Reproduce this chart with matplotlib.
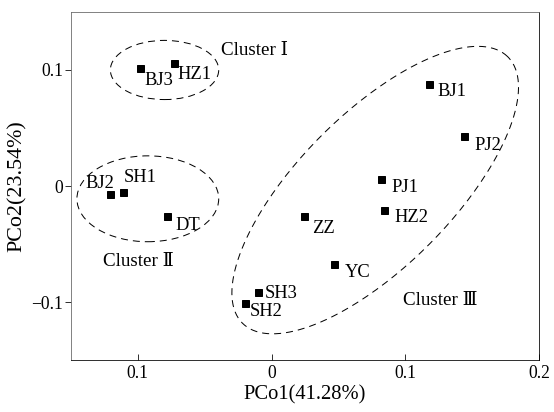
import numpy as np
import matplotlib
matplotlib.use('Agg')
from matplotlib import pyplot as plt
from matplotlib.patches import Ellipse

# sample scores on the first two principal coordinates
names = ['BJ3', 'HZ1', 'BJ2', 'SH1', 'DT', 'BJ1', 'PJ2', 'PJ1',
         'HZ2', 'ZZ', 'YC', 'SH3', 'SH2']
pco1 = [-0.098, -0.073, -0.121, -0.111, -0.078, 0.118, 0.144, 0.082,
        0.084, 0.024, 0.047, -0.010, -0.020]
pco2 = [0.102, 0.106, -0.007, -0.005, -0.026, 0.088, 0.043, 0.006,
        -0.021, -0.026, -0.067, -0.091, -0.101]
# label offsets in points (dx, dy, ha)
offsets = {'BJ3': (4, -13, 'left'), 'HZ1': (4, -11, 'left'),
           'BJ2': (-10, 11, 'center'), 'SH1': (17, 14, 'center'),
           'DT': (8, -9, 'left'), 'BJ1': (8, -8, 'left'),
           'PJ2': (10, -9, 'left'), 'PJ1': (10, -8, 'left'),
           'HZ2': (11, -7, 'left'), 'ZZ': (8, -12, 'left'),
           'YC': (10, -9, 'left'), 'SH3': (7, -2, 'left'),
           'SH2': (5, -8, 'left')}

xticks = [-0.1, 0, 0.1, 0.2]
xticklabels = ['0.1', '0', '0.1', '0.2']
yticks = [-0.1, 0, 0.1]
yticklabels = ['\u22120.1', '0', '0.1']

serif = ['Liberation Serif', 'DejaVu Serif']
plt.rcParams['font.family'] = serif
plt.rcParams['font.size'] = 17.5

fig = plt.figure(figsize=(554 / 72, 412 / 72), dpi=72)
ax = fig.add_axes([0.128, 0.126, 0.845, 0.845])

ax.plot(pco1, pco2, 's', color='black', markersize=7, linestyle='none')
for n, x, y in zip(names, pco1, pco2):
    dx, dy, ha = offsets[n]
    ax.annotate(n, (x, y), xytext=(dx, dy), textcoords='offset points',
                ha=ha, va='center', fontsize=18.5)

# cluster outlines
dash = (0, (7, 5))
ax.add_patch(Ellipse((-0.080, 0.100), 0.081, 0.051, fill=False,
                     edgecolor='black', lw=1, linestyle=dash))
ax.add_patch(Ellipse((-0.0925, -0.011), 0.106, 0.074, fill=False,
                     edgecolor='black', lw=1, linestyle=dash))
t = np.linspace(0, 2 * np.pi, 300)
cx, cy = 0.0775, -0.0035
ux, uy = 0.0990, 0.1150
vx, vy = -0.0410, 0.0460
ax.plot(cx + ux * np.cos(t) + vx * np.sin(t),
        cy + uy * np.cos(t) + vy * np.sin(t),
        color='black', lw=1, linestyle=dash)

ax.text(-0.0378, 0.117, 'Cluster \u2160', va='center', ha='left',
        fontsize=19)
ax.text(-0.126, -0.0647, 'Cluster \u2161', va='center', ha='left',
        fontsize=19)
ax.text(0.0983, -0.0983, 'Cluster \u2162', va='center', ha='left',
        fontsize=19)

ax.set_xlim(-0.15, 0.2)
ax.set_ylim(-0.15, 0.15)
ax.set_xticks(xticks)
ax.set_xticklabels(xticklabels)
ax.set_yticks(yticks)
ax.set_yticklabels(yticklabels)
ax.tick_params(axis='x', direction='in', length=6, pad=5)
ax.tick_params(axis='y', direction='out', length=6, pad=2)
ax.spines['left'].set_color('#666666')
ax.spines['top'].set_color('#666666')
ax.set_xlabel('PCo1(41.28%)', labelpad=3, fontsize=20.5)
ax.set_ylabel('PCo2(23.54%)', labelpad=4, fontsize=22)

fig.savefig('out.png', dpi=72)
